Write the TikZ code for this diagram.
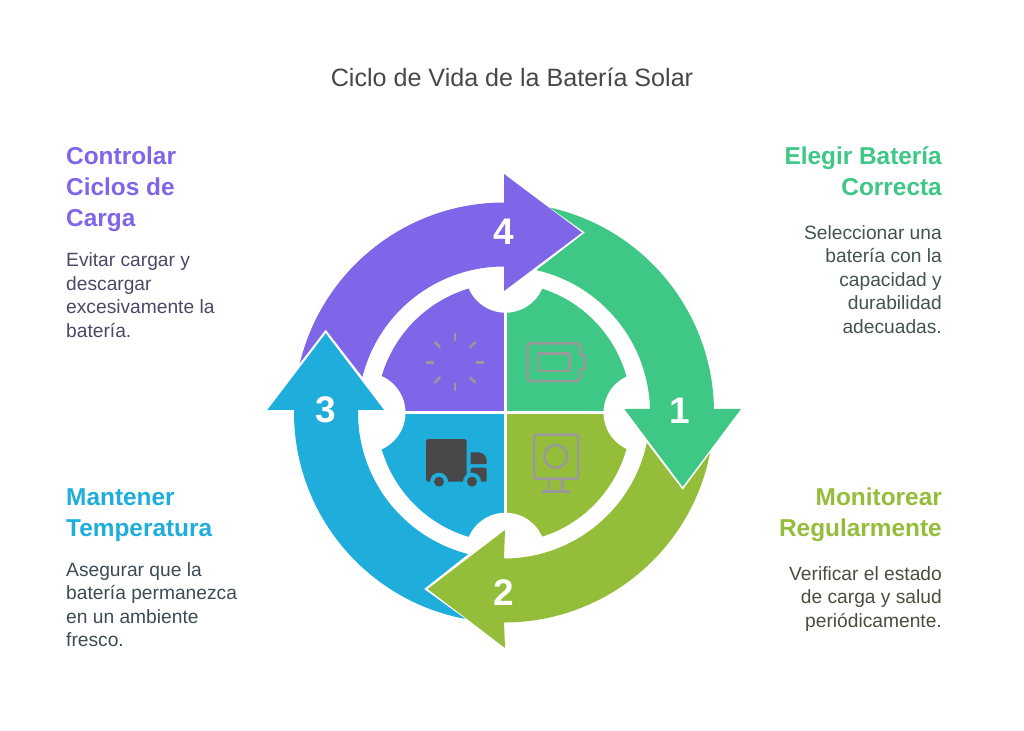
\documentclass[tikz,border=0pt]{standalone}
\usepackage{fontspec}
\setmainfont{Liberation Sans}
\definecolor{cpurple}{HTML}{7F66E9}
\definecolor{cgreen}{HTML}{3EC785}
\definecolor{colive}{HTML}{94BD39}
\definecolor{cblue}{HTML}{1FADDC}
\definecolor{ctitle}{HTML}{484848}
\definecolor{cicon}{HTML}{999999}
\definecolor{ctruck}{HTML}{484848}
\definecolor{bpurple}{HTML}{4B4868}
\definecolor{bgreen}{HTML}{41554D}
\definecolor{bblue}{HTML}{3C4B54}
\definecolor{bolive}{HTML}{494F3F}
\newcommand\fl{\rule{0pt}{20pt}}
\tikzset{
  num/.style={font=\fontsize{37}{37}\selectfont\bfseries,text=white,inner sep=0pt},
  headl/.style={font=\fontsize{24.4}{31}\selectfont\bfseries,inner sep=0pt,align=left,anchor=north west},
  headr/.style={font=\fontsize{24.4}{31}\selectfont\bfseries,inner sep=0pt,align=right,anchor=north east},
  bodyl/.style={font=\fontsize{19.2}{23.5}\selectfont,inner sep=0pt,align=left,anchor=north west},
  bodyr/.style={font=\fontsize{19.2}{23.5}\selectfont,inner sep=0pt,align=right,anchor=north east},
  gapline/.style={white,line width=2.5pt},
  iconl/.style={cicon,line width=2.5pt,line join=round},
}
\begin{document}
\begin{tikzpicture}[x=1pt,y=-1pt]
\useasboundingbox (0,0) rectangle (1024,730);
\fill[white] (0,0) rectangle (1024,730);
\coordinate (p) at (505.5,412.7);
\coordinate (c) at (504,412.5);
% pie
\fill[cpurple] (p) -- ++(-129,0) arc[start angle=180,end angle=270,x radius=129,y radius=129.5] -- cycle;
\fill[cgreen] (p) -- ++(0,-129.5) arc[start angle=270,end angle=360,x radius=126,y radius=129.5] -- cycle;
\fill[colive] (p) -- ++(126,0) arc[start angle=0,end angle=90,x radius=126,y radius=129.5] -- cycle;
\fill[cblue] (p) -- ++(0,129.5) arc[start angle=90,end angle=180,x radius=129,y radius=129.5] -- cycle;
\draw[gapline] (375,412.7) -- (636,412.7);
\draw[gapline] (505.5,280) -- (505.5,545);
\fill[white] (505.5,272.7) circle[radius=40];
\fill[white] (643.5,412.7) circle[radius=40];
\fill[white] (505.5,552.7) circle[radius=40];
\fill[white] (365.5,412.7) circle[radius=40];
% arrows
\fill[cgreen] ([shift={(c)}]-77.4:210) arc[start angle=-77.4,end angle=-1,radius=210] -- (741,409) -- (682.7,486.7) -- (624.3,409) -- ([shift={(c)}]-1.4:146) arc[start angle=-1.4,end angle=-77.2,radius=146] -- (585,232.5) -- cycle;
\fill[colive] ([shift={(c)}]11.1:210) arc[start angle=11.1,end angle=90,radius=210] -- (505,648) -- (427.7,589) -- (505,530) -- ([shift={(c)}]90:146) arc[start angle=90,end angle=12,radius=146] -- (682.7,490) -- cycle;
\fill[cblue] ([shift={(c)}]100.6:210) arc[start angle=100.6,end angle=180.7,radius=210] -- (267.3,410) -- (325.7,333.3) -- (384,410) -- ([shift={(c)}]181:146) arc[start angle=181,end angle=104.2,radius=146] -- (424,589) -- cycle;
\fill[cpurple] ([shift={(c)}]193.6:210) arc[start angle=193.6,end angle=270,radius=210] -- (504,174) -- (582,232.5) -- (504,291) -- ([shift={(c)}]270:146) arc[start angle=270,end angle=194.1,radius=146] -- (325.7,329.5) -- cycle;
% numbers
\node[num] (n1) at (680,411) {1};
\node[num] (n2) at (504,593) {2};
\node[num] (n3) at (326,410) {3};
\node[num] (n4) at (504,232) {4};
% sun icon
\coordinate (sun) at (455,362.3);
\foreach \a in {0,45,...,315}
  \draw[iconl] ([shift={(sun)}]\a:21) -- ([shift={(sun)}]\a:29);
% battery icon
\draw[iconl,rounded corners=3pt] (527.5,343.3) -- (580,343.3) [rounded corners=1pt] -- (580,355) -- (584.5,355) -- (584.5,369.5) -- (580,369.5) [rounded corners=3pt] -- (580,381) -- (527.5,381) -- cycle;
\draw[iconl] (538,353.5) rectangle (569.5,371);
% monitor icon
\draw[iconl,rounded corners=2pt] (534,434.5) rectangle (578,478.5);
\draw[iconl] (555.7,456.3) circle[radius=11.5];
\draw[iconl] (549,479) -- (549,491.3) (562.3,479) -- (562.3,491.3);
\draw[iconl,line cap=round] (542.5,491.3) -- (569.5,491.3);
% truck icon
\fill[ctruck,rounded corners=2.5pt] (426,439) rectangle (466.7,481.7);
\fill[ctruck] (470.7,452.3) -- (478,452.3) arc[start angle=-90,end angle=0,radius=8.7] -- (486.7,464) -- (470.7,464) -- cycle;
\fill[ctruck,rounded corners=2pt] (470.7,467.7) rectangle (486.7,481.7);
\fill[cblue] (439,481.7) circle[radius=9];
\fill[cblue] (472,481.7) circle[radius=9];
\fill[ctruck] (439,481.7) circle[radius=5];
\fill[ctruck] (472,481.7) circle[radius=5];
% title
\node[inner sep=0pt,anchor=base,text=ctitle,font=\fontsize{25.1}{28}\selectfont] (title) at (512,87) {Ciclo de Vida de la Batería Solar};
% texts
\node[headl,text=cpurple] (h4) at (66,144) {\fl Controlar\\Ciclos de\\Carga};
\node[bodyl,text=bpurple] (b4) at (66,246.7) {\fl Evitar cargar y\\descargar\\excesivamente la\\batería.};
\node[headr,text=cgreen] (h1) at (942,144) {\fl Elegir Batería\\Correcta};
\node[bodyr,text=bgreen] (b1) at (942,219) {\fl Seleccionar una\\batería con la\\capacidad y\\durabilidad\\adecuadas.};
\node[headl,text=cblue] (h3) at (66,485) {\fl Mantener\\Temperatura};
\node[bodyl,text=bblue] (b3) at (66,556) {\fl Asegurar que la\\batería permanezca\\en un ambiente\\fresco.};
\node[headr,text=colive] (h2) at (942,485) {\fl Monitorear\\Regularmente};
\node[bodyr,text=bolive] (b2) at (942,560) {\fl Verificar el estado\\de carga y salud\\periódicamente.};
\end{tikzpicture}
\end{document}
